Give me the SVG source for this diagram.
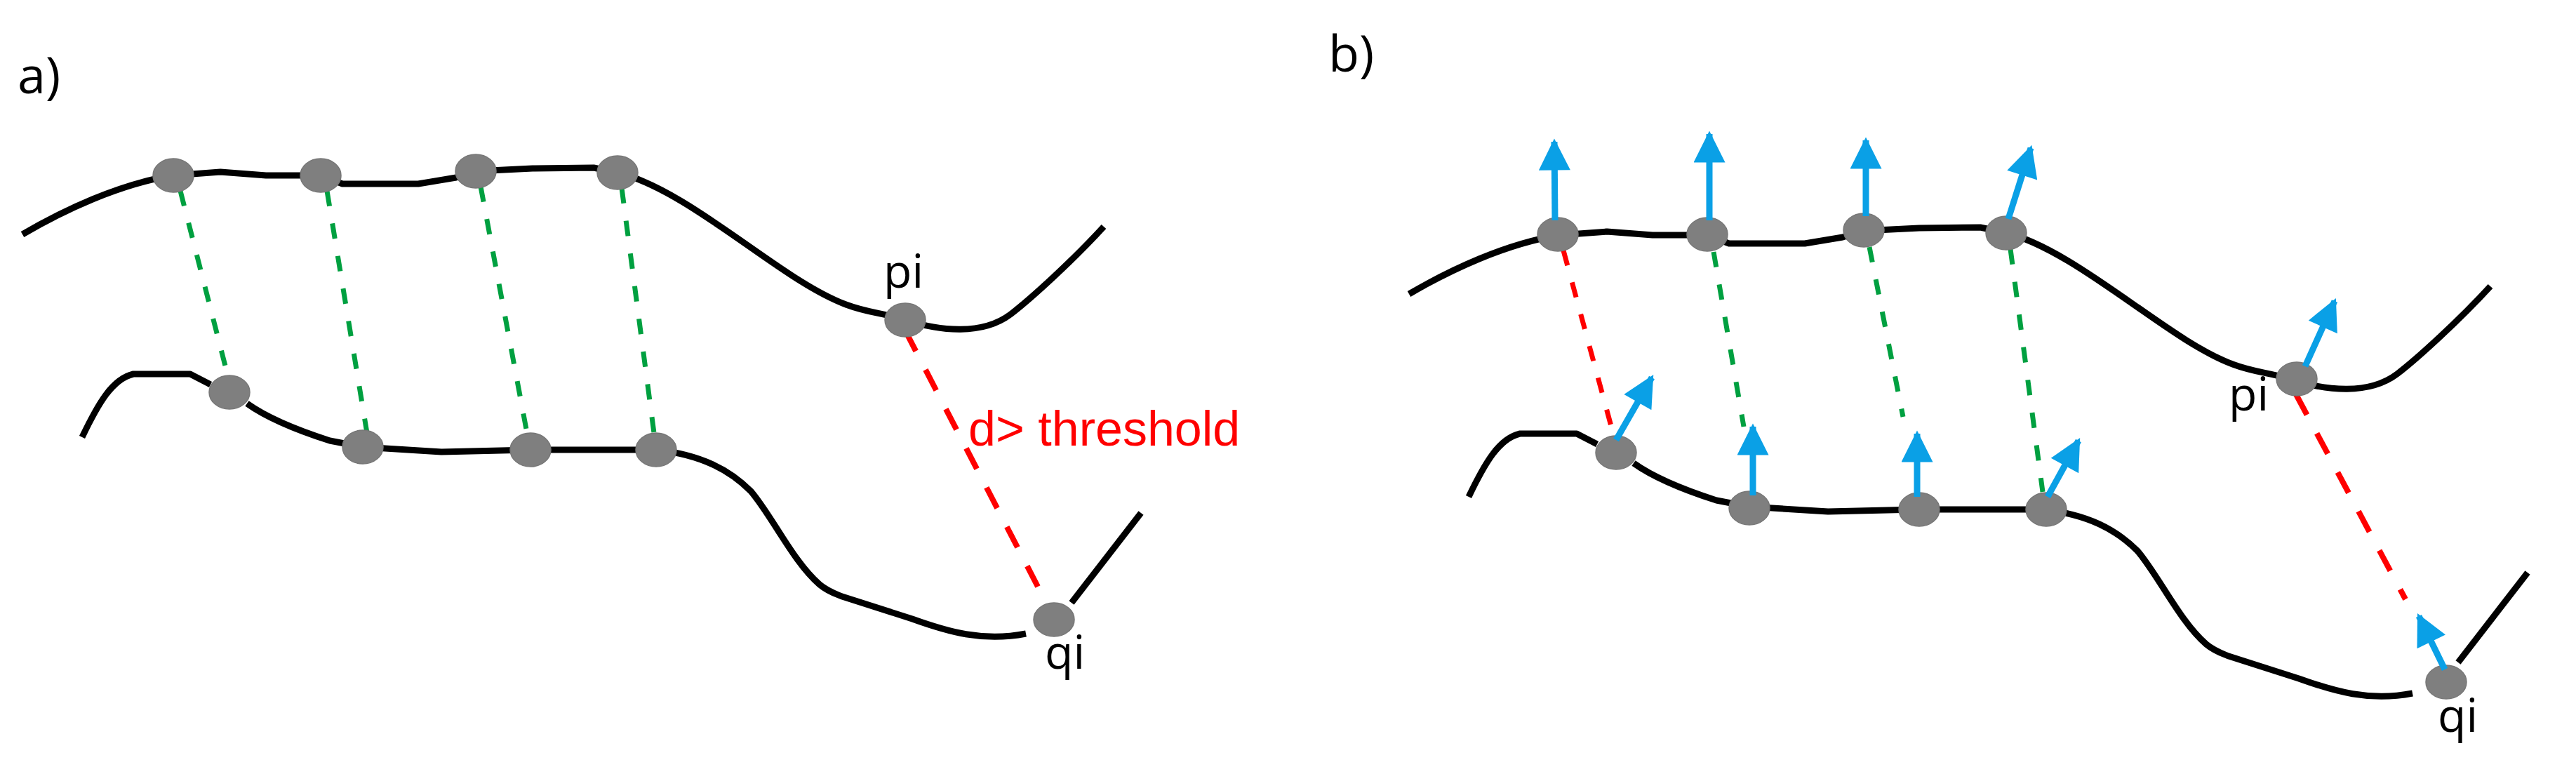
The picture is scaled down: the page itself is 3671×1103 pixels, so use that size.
<svg xmlns="http://www.w3.org/2000/svg" width="3671" height="1103" viewBox="0 0 3671 1103">
<style>
.curve{fill:none;stroke:#000;stroke-width:9;stroke-linejoin:round;stroke-linecap:butt}
.node{fill:#7f7f7f;stroke:#777;stroke-width:1.5}
.gdash{fill:none;stroke:#00a040;stroke-width:7;stroke-dasharray:22 25}
.rdash{fill:none;stroke:#ff0000;stroke-width:8;stroke-dasharray:33 30}
.rdashs{fill:none;stroke:#ff0000;stroke-width:7;stroke-dasharray:22 25}
.normal{fill:none;stroke:#0aa0e6;stroke-width:9;marker-end:url(#head)}
.lbl{font-family:"Open Sans","Liberation Sans",sans-serif;fill:#000}
.thr{font-family:"Liberation Sans",Arial,sans-serif;fill:#ff0000;font-size:70px}
</style>
<defs>
<marker id="head" viewBox="0 0 10 10" refX="9" refY="5" markerUnits="strokeWidth" markerWidth="5.4" markerHeight="5" orient="auto">
<path d="M0,0 L10,5 L0,10 z" fill="#0aa0e6"/>
</marker>
<g id="curves">
<path class="curve" d="M32,334 C90,300 170,262 247,250 L314,245 L379,250 L457,250 L488,262 L596,262 L650,253 L678,244 L759,240 L846,239 L880,246 C960,265 1060,350 1140,400 S1240,440 1290,456 C1340,472 1400,478 1440,448 C1470,425 1530,370 1573,323"/>
<path class="curve" d="M117,623 C140,575 160,540 190,533 L271,533 L300,548"/>
<path class="curve" d="M352,575 C380,595 420,612 470,628 L517,637 L629,644 L756,641 L935,641 C1000,648 1040,670 1070,700 C1100,735 1130,800 1168,833 C1180,843 1190,846 1200,850 L1300,882 C1350,900 1400,915 1462,903"/>
<path class="curve" d="M1527,859 L1626,731"/>
</g>
</defs>
<rect width="3671" height="1103" fill="#fff"/>

<g id="panel-a">
<text class="lbl" x="25" y="133" font-size="72">a)</text>
<use href="#curves"/>
</g>
<g id="panel-b">
<text class="lbl" x="1893" y="102" font-size="72">b)</text>
<use href="#curves" transform="translate(1976,85)"/>
</g>

<g id="connectors">
<line class="gdash" x1="257" y1="272" x2="325" y2="537"/>
<line class="gdash" x1="466" y1="272" x2="523" y2="617"/>
<line class="gdash" x1="685" y1="266" x2="751" y2="617"/>
<line class="gdash" x1="886" y1="268" x2="932" y2="617"/>
<line class="rdash" x1="1290" y1="471" x2="1494" y2="865"/>
<line class="rdashs" x1="2228" y1="357" x2="2300" y2="622"/>
<line class="gdash" x1="2442" y1="359" x2="2485" y2="608"/>
<line class="gdash" x1="2664" y1="352" x2="2712" y2="594"/>
<line class="gdash" x1="2865" y1="355" x2="2911" y2="701"/>
<line class="rdash" x1="3272" y1="562" x2="3428" y2="854"/>
</g>

<g id="a-p1"><ellipse class="node" cx="247" cy="250" rx="29" ry="24"/></g>
<g id="a-p2"><ellipse class="node" cx="457" cy="250" rx="29" ry="24"/></g>
<g id="a-p3"><ellipse class="node" cx="678" cy="244" rx="29" ry="24"/></g>
<g id="a-p4"><ellipse class="node" cx="880" cy="246" rx="29" ry="24"/></g>
<g id="a-pi"><ellipse class="node" cx="1290" cy="456" rx="29" ry="24"/><text class="lbl" x="1259" y="410" font-size="66">pi</text></g>
<g id="a-q1"><ellipse class="node" cx="327" cy="559" rx="29" ry="24"/></g>
<g id="a-q2"><ellipse class="node" cx="517" cy="637" rx="29" ry="24"/></g>
<g id="a-q3"><ellipse class="node" cx="756" cy="641" rx="29" ry="24"/></g>
<g id="a-q4"><ellipse class="node" cx="935" cy="641" rx="29" ry="24"/></g>
<g id="a-qi"><ellipse class="node" cx="1502" cy="883" rx="29" ry="24"/><text class="lbl" x="1489" y="953" font-size="66">qi</text></g>
<g id="a-threshold"><text class="thr" x="1380" y="635">d&gt; threshold</text></g>

<g id="b-p1"><ellipse class="node" cx="2220" cy="334" rx="29" ry="24"/><line class="normal" x1="2216" y1="314" x2="2215" y2="202"/></g>
<g id="b-p2"><ellipse class="node" cx="2433" cy="334" rx="29" ry="24"/><line class="normal" x1="2436" y1="314" x2="2436" y2="191"/></g>
<g id="b-p3"><ellipse class="node" cx="2656" cy="328" rx="29" ry="24"/><line class="normal" x1="2659" y1="308" x2="2659" y2="200"/></g>
<g id="b-p4"><ellipse class="node" cx="2859" cy="332" rx="29" ry="24"/><line class="normal" x1="2862" y1="312" x2="2894" y2="211"/></g>
<g id="b-pi"><ellipse class="node" cx="3273" cy="540" rx="29" ry="24"/><line class="normal" x1="3285" y1="522" x2="3327" y2="429"/><text class="lbl" x="3176" y="585" font-size="66">pi</text></g>
<g id="b-q1"><ellipse class="node" cx="2303" cy="645" rx="29" ry="24"/><line class="normal" x1="2303" y1="627" x2="2354" y2="538"/></g>
<g id="b-q2"><ellipse class="node" cx="2493" cy="724" rx="29" ry="24"/><line class="normal" x1="2498" y1="706" x2="2498" y2="608"/></g>
<g id="b-q3"><ellipse class="node" cx="2735" cy="726" rx="29" ry="24"/><line class="normal" x1="2732" y1="708" x2="2732" y2="618"/></g>
<g id="b-q4"><ellipse class="node" cx="2916" cy="726" rx="29" ry="24"/><line class="normal" x1="2918" y1="708" x2="2962" y2="628"/></g>
<g id="b-qi"><ellipse class="node" cx="3486" cy="972" rx="29" ry="24"/><line class="normal" x1="3484" y1="954" x2="3447" y2="878"/><text class="lbl" x="3474" y="1043" font-size="66">qi</text></g>
</svg>
